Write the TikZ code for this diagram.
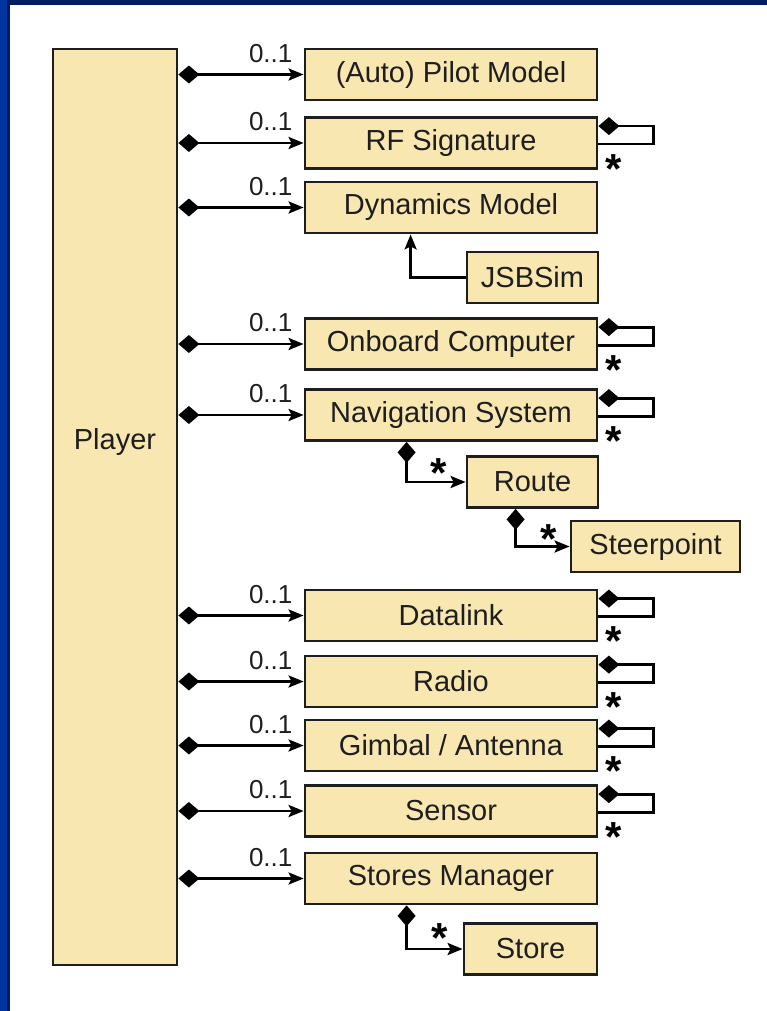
\documentclass[tikz,border=0pt]{standalone}
\usepackage{fontspec}
\setmainfont{Liberation Sans}
\usetikzlibrary{arrows.meta}
\definecolor{boxfill}{RGB}{249,231,178}
\definecolor{navytop}{RGB}{0,28,96}
\definecolor{stripblue}{RGB}{0,52,160}
\definecolor{ink}{RGB}{30,30,30}
\begin{document}
\begin{tikzpicture}[x=1pt,y=-1pt,
  box/.style={draw=ink, line width=2.8pt, fill=boxfill, inner sep=0pt, text=ink,
    font=\fontsize{29}{32}\selectfont, minimum height=51pt},
  wide/.style={box, minimum width=292pt},
  comp/.style={draw=black, line width=2.8pt,
    {Diamond[length=21pt,width=18pt]}-{Stealth[length=15pt,width=12pt,inset=3pt]}},
  selfloop/.style={draw=black, line width=2.8pt, {Diamond[length=21pt,width=18pt]}-},
  depend/.style={draw=black, line width=2.8pt, -{Stealth[length=15pt,width=12pt,inset=3pt]}},
  mult/.style={font=\fontsize{26}{28}\selectfont, text=ink, anchor=south east, inner sep=0pt},
  many/.style={font=\bfseries\fontsize{42}{42}\selectfont, text=black, inner sep=0pt, anchor=north}
]
% background and frame
\useasboundingbox (0,0) rectangle (767,1011);
\fill[white] (0,0) rectangle (767,1011);
\fill[navytop] (0,0) rectangle (767,5);
\fill[navytop] (0,0) rectangle (10,1011);
\fill[stripblue] (0,0) rectangle (7,1011);

% player
\node[box, minimum width=124pt, minimum height=916pt,
      label={[yshift=65pt, font=\fontsize{29}{32}\selectfont, text=ink]center:Player}] (player) at (115,507) {};

% parts
\node[wide] (pilot)  at (451,74.5)  {(Auto) Pilot Model};
\node[wide] (rf)     at (451,143)   {RF Signature};
\node[wide] (dyn)    at (451,207.5) {Dynamics Model};
\node[box, minimum width=131pt] (jsb) at (532.5,277.5) {JSBSim};
\node[wide] (onb)    at (451,344)   {Onboard Computer};
\node[wide] (nav)    at (451,415)   {Navigation System};
\node[box, minimum width=131pt] (route) at (532.5,482) {Route};
\node[box, minimum width=169pt] (steer) at (655.5,546.5) {Steerpoint};
\node[wide] (dlink)  at (451,615.5) {Datalink};
\node[wide] (radio)  at (451,681.5) {Radio};
\node[wide] (gimbal) at (451,745.5) {Gimbal / Antenna};
\node[wide] (sensor) at (451,811)   {Sensor};
\node[wide] (stores) at (451,878.5) {Stores Manager};
\node[box, minimum width=133pt] (store) at (530.5,949) {Store};

% player associations
\foreach \n in {pilot,rf,dyn,onb,nav,dlink,radio,gimbal,sensor,stores}{
  \draw[comp] (player.east |- \n.west) -- (\n.west);
  \node[mult] at ([xshift=-11pt,yshift=12pt]\n.west) {0..1};
}

% self loops
\foreach \n in {rf,onb,nav,dlink,radio,gimbal,sensor}{
  \draw[selfloop] ([yshift=-10pt]\n.north east) -- ++(55,0) -- ++(0,18) -- ([yshift=-28pt]\n.north east);
  \node[many] at ([xshift=15pt,yshift=-38pt]\n.north east) {*};
}

% JSBSim dependency
\draw[depend] (jsb.west) -| ([xshift=107pt]dyn.south west);

% sub compositions
\draw[comp] ([xshift=103pt]nav.south west) |- (route.west);
\node[many] at ([xshift=-27pt,yshift=24pt]route.west) {*};
\draw[comp] ([xshift=50pt]route.south west) |- (steer.west);
\node[many] at ([xshift=-21pt,yshift=22pt]steer.west) {*};
\draw[comp] ([xshift=103pt]stores.south west) |- (store.west);
\node[many] at ([xshift=-23pt,yshift=26pt]store.west) {*};
\end{tikzpicture}
\end{document}
